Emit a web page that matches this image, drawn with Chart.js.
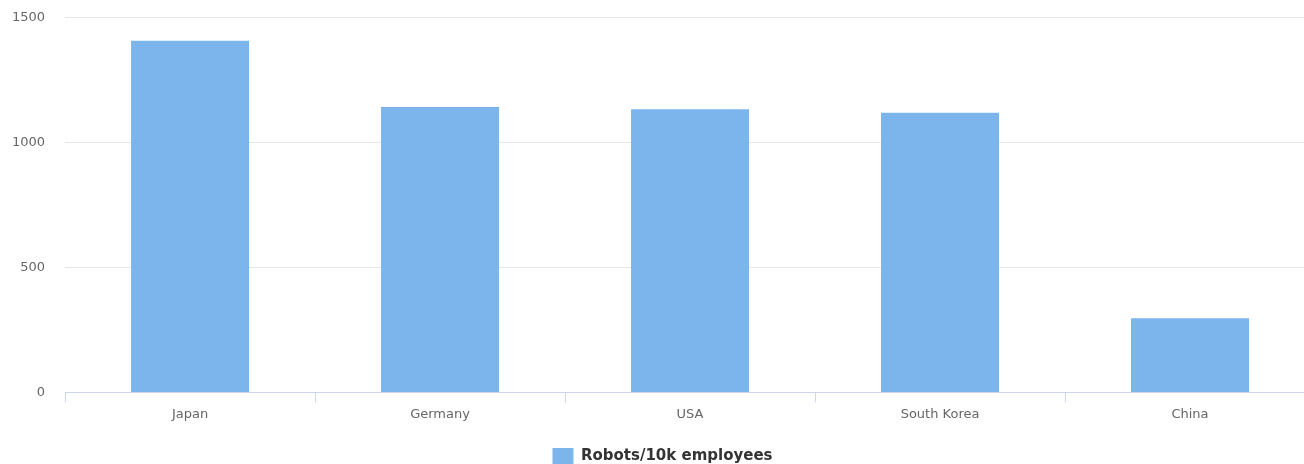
<!DOCTYPE html>
<html>
<head>
<meta charset="utf-8">
<script src="https://cdn.jsdelivr.net/npm/chart.js@4"></script>
<style>
  html, body { margin: 0; padding: 0; background: #fff; overflow: hidden; }
  .chart-box { width: 1333px; height: 484px; margin-left: -18px; margin-top: -10px; }
</style>
</head>
<body>
<div class="chart-box"><canvas id="chart"></canvas></div>
<script>
const countries = ['Japan', 'Germany', 'USA', 'South Korea', 'China'];
const robotsPer10k = [1408, 1143, 1134, 1120, 297];
const yTicks = [0, 500, 1000, 1500];

Chart.defaults.font.family = '"DejaVu Sans", Verdana, sans-serif';
Chart.defaults.animation = false;

// nudge the legend so it sits centred on the visible page, not the wider canvas
const legendNudge = {
  id: 'legendNudge',
  afterLayout(chart) {
    if (chart.legend) {
      chart.legend.left += 9;
      chart.legend.right += 9;
    }
  }
};

new Chart(document.getElementById('chart'), {
  type: 'bar',
  data: {
    labels: countries,
    datasets: [{
      label: 'Robots/10k employees',
      data: robotsPer10k,
      backgroundColor: '#7cb5ec',
      borderWidth: 0,
      barPercentage: 1,
      categoryPercentage: 0.472
    }]
  },
  options: {
    responsive: true,
    maintainAspectRatio: false,
    layout: { padding: { top: 0, left: 10, right: 0, bottom: 0 } },
    plugins: {
      tooltip: { enabled: false },
      legend: {
        position: 'bottom',
        labels: {
          boxWidth: 21,
          boxHeight: 16,
          padding: 12,
          color: '#333333',
          font: { size: 15, weight: 'bold' }
        }
      }
    },
    scales: {
      x: {
        offset: true,
        afterFit: scale => { scale.height += 10; },
        border: { color: '#ccd6eb', width: 1 },
        grid: {
          offset: true,
          drawOnChartArea: false,
          color: '#ccd6eb',
          tickLength: 10
        },
        ticks: { color: '#666666', font: { size: 13 }, padding: 4 }
      },
      y: {
        min: 0,
        max: 1500,
        afterBuildTicks: axis => { axis.ticks = yTicks.map(v => ({ value: v })); },
        border: { display: false },
        grid: { color: '#e6e6e6', drawTicks: false },
        ticks: {
          color: '#666666',
          font: { size: 13 },
          padding: 20,
          callback: v => String(v)
        }
      }
    }
  },
  plugins: [legendNudge]
});
</script>
</body>
</html>
